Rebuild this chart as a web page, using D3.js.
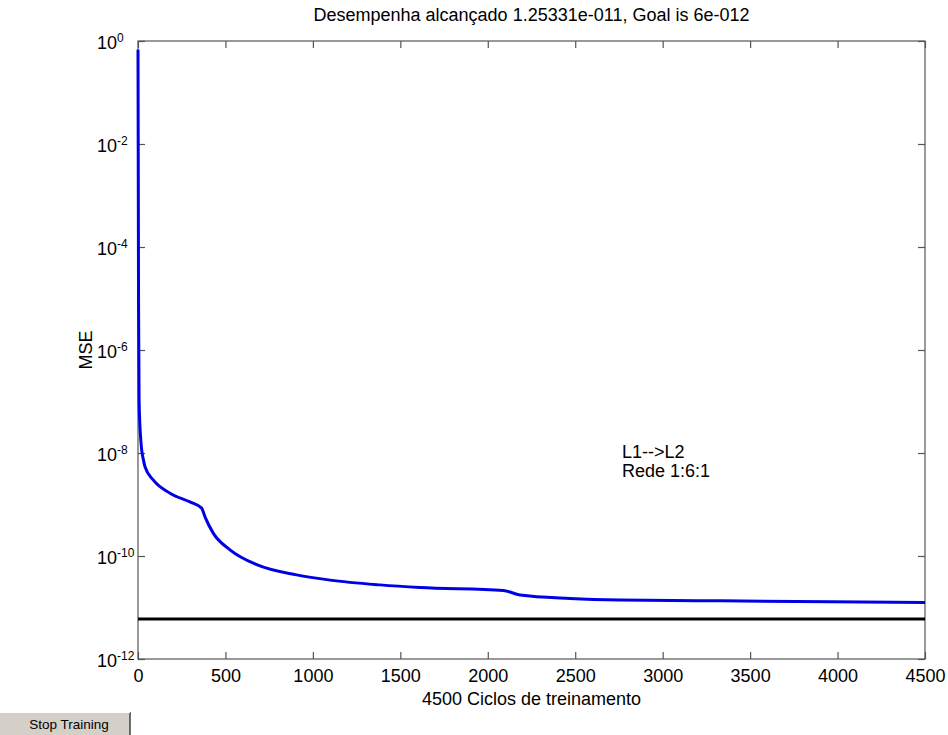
<!DOCTYPE html>
<html>
<head>
<meta charset="utf-8">
<script src="https://cdn.jsdelivr.net/npm/d3@7"></script>
<style>
  html, body { margin: 0; padding: 0; background: #fff; }
  svg { display: block; font-family: "Liberation Sans", Arial, sans-serif; }
</style>
</head>
<body>
<svg id="chart" width="948" height="735"></svg>
<script>
// ── data ──────────────────────────────────────────────
const EPOCHS = [0, 1, 2, 3, 5, 6, 10, 15, 21, 30, 40, 87, 183, 297, 364, 383, 431, 526, 679, 907, 1098, 1384, 1612, 2089, 2184, 2470, 2756, 3328, 4500];
const MSE    = [6.8e-1, 2e-2, 5e-4, 1e-5, 6.3e-7, 1.26e-7, 4e-8, 2e-8, 1.15e-8, 7.6e-9, 5.4e-9, 3e-9, 1.66e-9, 1.12e-9, 8.5e-10, 5.75e-10, 2.75e-10, 1.32e-10, 6.8e-11, 4.3e-11, 3.4e-11, 2.75e-11, 2.45e-11, 2.15e-11, 1.75e-11, 1.5e-11, 1.4e-11, 1.35e-11, 1.25e-11];
const GOAL = 6e-12;
const X_TICKS = [0, 500, 1000, 1500, 2000, 2500, 3000, 3500, 4000, 4500];
const Y_EXPONENTS = [0, -2, -4, -6, -8, -10, -12];

const TITLE = 'Desempenha alcançado 1.25331e-011, Goal is 6e-012';
const X_LABEL = '4500 Ciclos de treinamento';
const Y_LABEL = 'MSE';
const NOTE = ['L1-->L2', 'Rede 1:6:1'];

// ── layout ────────────────────────────────────────────
const M = { left: 138, right: 925, top: 41, bottom: 659 };
const AXIS = '#555';
const TICK = 7;
const FS = 18;

const svg = d3.select('#chart');

const x = d3.scaleLinear().domain([0, 4500]).range([M.left, M.right]);
const y = d3.scaleLog().domain([1e-12, 1]).range([M.bottom, M.top]);

// frame
svg.append('rect')
  .attr('x', M.left).attr('y', M.top)
  .attr('width', M.right - M.left).attr('height', M.bottom - M.top)
  .attr('fill', 'none').attr('stroke', AXIS).attr('stroke-width', 1.2);

// x axis (bottom, ticks inward) + mirrored top ticks
const xAxis = svg.append('g')
  .attr('transform', `translate(0,${M.bottom})`)
  .call(d3.axisBottom(x).tickValues(X_TICKS).tickSize(-TICK).tickFormat(d3.format('d')));
svg.append('g')
  .attr('transform', `translate(0,${M.top})`)
  .call(d3.axisTop(x).tickValues(X_TICKS).tickSize(-TICK).tickFormat(''));

// y axis left + mirrored right
const yVals = Y_EXPONENTS.map(e => Math.pow(10, e));
const yAxis = svg.append('g')
  .attr('transform', `translate(${M.left},0)`)
  .call(d3.axisLeft(y).tickValues(yVals).tickSize(-TICK).tickFormat(() => '10'));
svg.append('g')
  .attr('transform', `translate(${M.right},0)`)
  .call(d3.axisRight(y).tickValues(yVals).tickSize(-TICK).tickFormat(''));

svg.selectAll('.domain').remove();
svg.selectAll('.tick line').attr('stroke', AXIS).attr('stroke-width', 1.2);
svg.selectAll('.tick text')
  .attr('fill', '#000').attr('font-size', FS)
  .attr('font-family', '"Liberation Sans", Arial, sans-serif');

xAxis.selectAll('.tick text').attr('y', 23).attr('dy', null);

// "10" right-aligned at x≈117, exponent overflowing to the right
yAxis.selectAll('.tick text')
  .attr('text-anchor', 'start')
  .attr('x', -(M.left - 97))
  .attr('dy', '0.4em')
  .each(function(d) {
    const e = Math.round(Math.log10(d));
    d3.select(this).append('tspan')
      .attr('dy', '-0.6em')
      .attr('font-size', 12)
      .text(e);
  });

// goal line
svg.append('line')
  .attr('x1', x(0)).attr('x2', x(4500))
  .attr('y1', y(GOAL)).attr('y2', y(GOAL))
  .attr('stroke', '#000').attr('stroke-width', 3);

// training curve
const line = d3.line()
  .x((d, i) => x(EPOCHS[i]))
  .y(d => y(d))
  .curve(d3.curveMonotoneX);

svg.append('path')
  .datum(MSE)
  .attr('d', line)
  .attr('fill', 'none')
  .attr('stroke', '#0000e6')
  .attr('stroke-width', 3)
  .attr('stroke-linejoin', 'round');

// texts
svg.append('text')
  .attr('x', (M.left + M.right) / 2).attr('y', 21)
  .attr('text-anchor', 'middle').attr('font-size', FS)
  .text(TITLE);

svg.append('text')
  .attr('x', (M.left + M.right) / 2).attr('y', 705)
  .attr('text-anchor', 'middle').attr('font-size', FS)
  .text(X_LABEL);

svg.append('text')
  .attr('transform', `translate(92,${(M.top + M.bottom) / 2}) rotate(-90)`)
  .attr('text-anchor', 'middle').attr('font-size', FS)
  .text(Y_LABEL);

svg.append('text')
  .attr('x', 622).attr('y', 458).attr('font-size', FS)
  .selectAll('tspan').data(NOTE).join('tspan')
  .attr('x', 622).attr('dy', (d, i) => i ? 19 : 0)
  .text(d => d);

// "Stop Training" button
const btn = svg.append('g');
btn.append('rect').attr('x', 0).attr('y', 712).attr('width', 130).attr('height', 23).attr('fill', '#d4d0c8');
btn.append('line').attr('x1', 130).attr('x2', 130).attr('y1', 712).attr('y2', 735).attr('stroke', '#404040').attr('stroke-width', 1.5);
btn.append('line').attr('x1', 0).attr('x2', 130).attr('y1', 712.5).attr('y2', 712.5).attr('stroke', '#fff');
btn.append('text').attr('x', 69).attr('y', 729).attr('text-anchor', 'middle')
  .attr('font-size', 13.5).attr('fill', '#000').text('Stop Training');
</script>
</body>
</html>
